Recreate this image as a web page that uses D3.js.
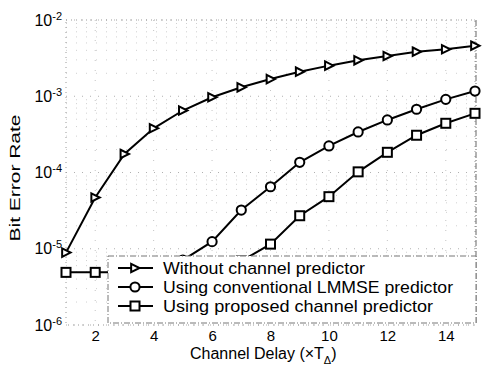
<!DOCTYPE html>
<html><head><meta charset="utf-8">
<script src="https://cdn.jsdelivr.net/npm/d3@7"></script>
<style>
html,body{margin:0;padding:0;background:#fff;}
svg{display:block;font-family:"Liberation Sans",Arial,Helvetica,sans-serif;}
</style></head>
<body><svg id="c" width="485" height="370"></svg>
<script>
// ---- data ----
const delays = [1,2,3,4,5,6,7,8,9,10,11,12,13,14,15];
const withoutPred = [8.9e-6,4.7e-5,1.75e-4,3.8e-4,6.5e-4,9.7e-4,1.31e-3,1.68e-3,2.1e-3,2.52e-3,2.96e-3,3.37e-3,3.84e-3,4.13e-3,4.6e-3];
const lmmseDelays = [5,6,7,8,9,10,11,12,13,14,15];
const lmmsePred = [7.1e-6,1.24e-5,3.22e-5,6.5e-5,1.36e-4,2.23e-4,3.4e-4,4.89e-4,6.75e-4,9.1e-4,1.17e-3];
const proposedDelays = [1,2,3,4,5,6,7,8,9,10,11,12,13,14,15];
const proposedPred = [4.9e-6,4.9e-6,4.9e-6,5e-6,5e-6,5.5e-6,6.9e-6,1.15e-5,2.71e-5,4.82e-5,1.02e-4,1.84e-4,3.08e-4,4.42e-4,5.97e-4];
const xTicks = [2,4,6,8,10,12,14];
const yTicks = [1e-6,1e-5,1e-4,1e-3,1e-2];
const yTickExp = ["-6","-5","-4","-3","-2"];
const legendLabels = ["Without channel predictor","Using conventional LMMSE predictor","Using proposed channel predictor"];
const xLabelText = "Channel Delay (\u00d7T";
const yLabelText = "Bit Error Rate";

// ---- layout ----
const svg = d3.select("#c");
const L = 66, R = 475, T = 20, B = 325;
const x = d3.scaleLinear().domain([1,15]).range([L,R]);
const y = d3.scaleLog().domain([1e-6,1e-2]).range([B,T]);

// grid
const g = svg.append("g");
const minor = [];
for (let e=-6; e<-2; e++) for (let m=2; m<=9; m++) minor.push(m*Math.pow(10,e));
g.selectAll(".ymin").data(minor).join("line")
  .attr("x1",L).attr("x2",R).attr("y1",d=>y(d)).attr("y2",d=>y(d))
  .attr("stroke","#d0d0d0").attr("stroke-width",1).attr("stroke-dasharray","1,9");
g.selectAll(".ymaj").data(yTicks).join("line")
  .attr("x1",L).attr("x2",R).attr("y1",d=>y(d)).attr("y2",d=>y(d))
  .attr("stroke","#b0b0b0").attr("stroke-width",1).attr("stroke-dasharray","1,7");
g.selectAll(".xg").data(xTicks).join("line")
  .attr("x1",d=>x(d)).attr("x2",d=>x(d)).attr("y1",T).attr("y2",B)
  .attr("stroke","#c4c4c4").attr("stroke-width",1).attr("stroke-dasharray","1,9");
// box
svg.append("rect").attr("x",L).attr("y",T).attr("width",R-L).attr("height",B-T)
  .attr("fill","none").attr("stroke","#999").attr("stroke-width",1).attr("stroke-dasharray","1,4");
svg.append("line").attr("x1",R+1).attr("x2",R+1).attr("y1",T).attr("y2",B)
  .attr("stroke","#666").attr("stroke-width",1).attr("stroke-dasharray","6,2,1,2");

// axes
const xa = svg.append("g").attr("transform",`translate(0,${B})`)
  .call(d3.axisBottom(x).tickValues(xTicks).tickSize(0).tickPadding(5).tickFormat(d3.format("d")));
xa.select(".domain").remove();
xa.selectAll("text").attr("font-size",15).attr("fill","#000").attr("font-family","Liberation Sans, Arial, sans-serif");

const ya = svg.append("g").attr("transform",`translate(${L},0)`)
  .call(d3.axisLeft(y).tickValues(yTicks).tickSize(0).tickPadding(4).tickFormat(()=>""));
ya.select(".domain").remove();
ya.selectAll("text").each(function(d,i){
  const t = d3.select(this).attr("font-size",16).attr("fill","#000").attr("font-family","Liberation Sans, Arial, sans-serif");
  t.text(null);
  t.append("tspan").text("10");
  t.append("tspan").attr("dy","-0.55em").attr("font-size",11).text(yTickExp[i]);
});

// labels
svg.append("text").attr("transform","translate(20,178) rotate(-90)")
  .attr("text-anchor","middle").attr("font-size",15)
  .attr("textLength",127).attr("lengthAdjust","spacingAndGlyphs").text(yLabelText);
const xl = svg.append("text").attr("x",190).attr("y",359).attr("font-size",16);
xl.append("tspan").text(xLabelText);
xl.append("tspan").attr("font-size",11).attr("dy",5).text("\u0394");
xl.append("tspan").attr("font-size",16).attr("dy",-5).text(")");

// series
const plot = svg.append("g");
const line = d3.line().x(d=>x(d[0])).y(d=>y(d[1]));
function tri(cx,cy,s){ return `M${cx-s*0.55},${cy-s*0.6}L${cx+s*0.65},${cy}L${cx-s*0.55},${cy+s*0.6}Z`; }
function drawMarker(sel,type,cx,cy){
  if(type==="tri") sel.append("path").attr("d",tri(cx,cy,7)).attr("fill","#fff").attr("stroke","#000").attr("stroke-width",2);
  else if(type==="circ") sel.append("circle").attr("cx",cx).attr("cy",cy).attr("r",4.6).attr("fill","#fff").attr("stroke","#000").attr("stroke-width",2);
  else sel.append("rect").attr("x",cx-4.5).attr("y",cy-4.5).attr("width",9).attr("height",9).attr("fill","#fff").attr("stroke","#000").attr("stroke-width",2);
}
const series = [
  {xs:delays, ys:withoutPred, m:"tri"},
  {xs:lmmseDelays, ys:lmmsePred, m:"circ"},
  {xs:proposedDelays, ys:proposedPred, m:"sq"}
];
series.forEach(s=>{
  const pts = s.xs.map((d,i)=>[d,s.ys[i]]);
  plot.append("path").datum(pts).attr("d",line).attr("fill","none").attr("stroke","#000").attr("stroke-width",2);
  pts.forEach(p=>drawMarker(plot,s.m,x(p[0]),y(p[1])));
});

// legend
const lg = svg.append("g");
lg.append("rect").attr("x",108).attr("y",256).attr("width",R+1-108).attr("height",67)
  .attr("fill","#fff").attr("stroke","#777").attr("stroke-width",1).attr("stroke-dasharray","6,2,1,2");
const rows = [268,287,306];
const lens = [202,290,270];
legendLabels.forEach((lab,i)=>{
  lg.append("line").attr("x1",118).attr("x2",153).attr("y1",rows[i]).attr("y2",rows[i]).attr("stroke","#000").attr("stroke-width",2);
  drawMarker(lg,series[i].m,135,rows[i]);
  lg.append("text").attr("x",163).attr("y",rows[i]+6).attr("font-size",17)
    .attr("textLength",lens[i]).attr("lengthAdjust","spacingAndGlyphs").text(lab);
});
</script></body></html>
